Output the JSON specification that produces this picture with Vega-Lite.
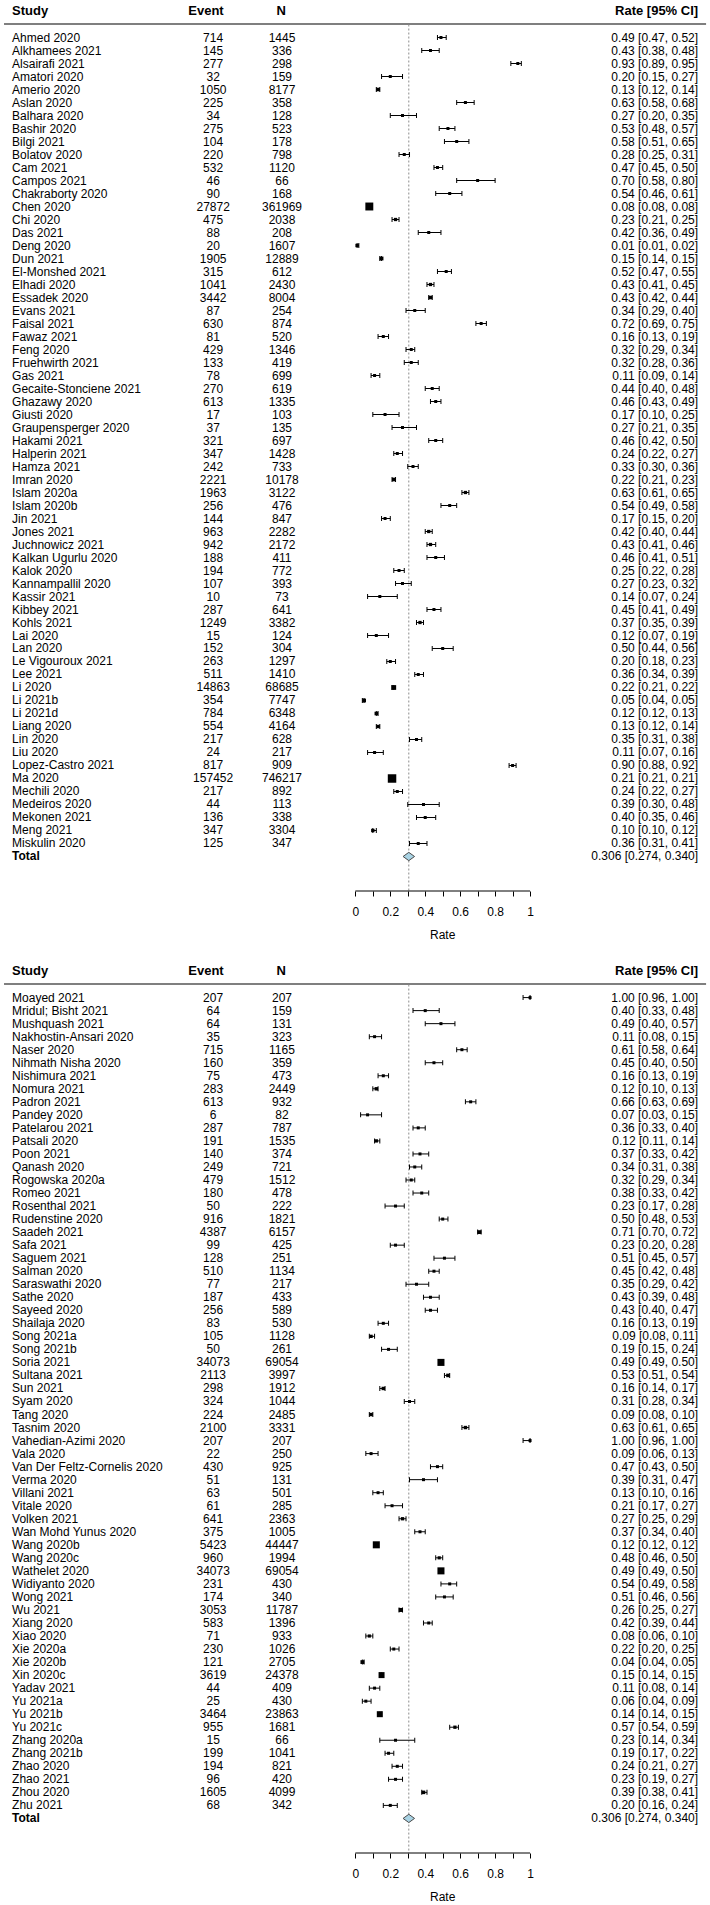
{
  "$schema": "https://vega.github.io/schema/vega-lite/v6.json",
  "padding": 0,
  "autosize": {"type": "pad"},
  "config": {"view": {"stroke": null}, "font": "Liberation Sans"},
  "data": {"values": [
    {"panel":1,"study":"Ahmed 2020","event":714,"n":1445,"rate":0.49,"lo":0.47,"hi":0.52,"w":1},
    {"panel":1,"study":"Alkhamees 2021","event":145,"n":336,"rate":0.43,"lo":0.38,"hi":0.48,"w":1},
    {"panel":1,"study":"Alsairafi 2021","event":277,"n":298,"rate":0.93,"lo":0.89,"hi":0.95,"w":1},
    {"panel":1,"study":"Amatori 2020","event":32,"n":159,"rate":0.20,"lo":0.15,"hi":0.27,"w":1},
    {"panel":1,"study":"Amerio 2020","event":1050,"n":8177,"rate":0.13,"lo":0.12,"hi":0.14,"w":1.4},
    {"panel":1,"study":"Aslan 2020","event":225,"n":358,"rate":0.63,"lo":0.58,"hi":0.68,"w":1},
    {"panel":1,"study":"Balhara 2020","event":34,"n":128,"rate":0.27,"lo":0.20,"hi":0.35,"w":1},
    {"panel":1,"study":"Bashir 2020","event":275,"n":523,"rate":0.53,"lo":0.48,"hi":0.57,"w":1},
    {"panel":1,"study":"Bilgi 2021","event":104,"n":178,"rate":0.58,"lo":0.51,"hi":0.65,"w":1},
    {"panel":1,"study":"Bolatov 2020","event":220,"n":798,"rate":0.28,"lo":0.25,"hi":0.31,"w":1},
    {"panel":1,"study":"Cam 2021","event":532,"n":1120,"rate":0.47,"lo":0.45,"hi":0.50,"w":1},
    {"panel":1,"study":"Campos 2021","event":46,"n":66,"rate":0.70,"lo":0.58,"hi":0.80,"w":1},
    {"panel":1,"study":"Chakraborty 2020","event":90,"n":168,"rate":0.54,"lo":0.46,"hi":0.61,"w":1},
    {"panel":1,"study":"Chen 2020","event":27872,"n":361969,"rate":0.08,"lo":0.08,"hi":0.08,"w":7},
    {"panel":1,"study":"Chi 2020","event":475,"n":2038,"rate":0.23,"lo":0.21,"hi":0.25,"w":1.2},
    {"panel":1,"study":"Das 2021","event":88,"n":208,"rate":0.42,"lo":0.36,"hi":0.49,"w":1},
    {"panel":1,"study":"Deng 2020","event":20,"n":1607,"rate":0.01,"lo":0.01,"hi":0.02,"w":1.3},
    {"panel":1,"study":"Dun 2021","event":1905,"n":12889,"rate":0.15,"lo":0.14,"hi":0.15,"w":1.6},
    {"panel":1,"study":"El-Monshed 2021","event":315,"n":612,"rate":0.52,"lo":0.47,"hi":0.55,"w":1},
    {"panel":1,"study":"Elhadi 2020","event":1041,"n":2430,"rate":0.43,"lo":0.41,"hi":0.45,"w":1.2},
    {"panel":1,"study":"Essadek 2020","event":3442,"n":8004,"rate":0.43,"lo":0.42,"hi":0.44,"w":1.4},
    {"panel":1,"study":"Evans 2021","event":87,"n":254,"rate":0.34,"lo":0.29,"hi":0.40,"w":1},
    {"panel":1,"study":"Faisal 2021","event":630,"n":874,"rate":0.72,"lo":0.69,"hi":0.75,"w":1},
    {"panel":1,"study":"Fawaz 2021","event":81,"n":520,"rate":0.16,"lo":0.13,"hi":0.19,"w":1},
    {"panel":1,"study":"Feng 2020","event":429,"n":1346,"rate":0.32,"lo":0.29,"hi":0.34,"w":1},
    {"panel":1,"study":"Fruehwirth 2021","event":133,"n":419,"rate":0.32,"lo":0.28,"hi":0.36,"w":1},
    {"panel":1,"study":"Gas 2021","event":78,"n":699,"rate":0.11,"lo":0.09,"hi":0.14,"w":1},
    {"panel":1,"study":"Gecaite-Stonciene 2021","event":270,"n":619,"rate":0.44,"lo":0.40,"hi":0.48,"w":1},
    {"panel":1,"study":"Ghazawy 2020","event":613,"n":1335,"rate":0.46,"lo":0.43,"hi":0.49,"w":1},
    {"panel":1,"study":"Giusti 2020","event":17,"n":103,"rate":0.17,"lo":0.10,"hi":0.25,"w":1},
    {"panel":1,"study":"Graupensperger 2020","event":37,"n":135,"rate":0.27,"lo":0.21,"hi":0.35,"w":1},
    {"panel":1,"study":"Hakami 2021","event":321,"n":697,"rate":0.46,"lo":0.42,"hi":0.50,"w":1},
    {"panel":1,"study":"Halperin 2021","event":347,"n":1428,"rate":0.24,"lo":0.22,"hi":0.27,"w":1},
    {"panel":1,"study":"Hamza 2021","event":242,"n":733,"rate":0.33,"lo":0.30,"hi":0.36,"w":1},
    {"panel":1,"study":"Imran 2020","event":2221,"n":10178,"rate":0.22,"lo":0.21,"hi":0.23,"w":1.5},
    {"panel":1,"study":"Islam 2020a","event":1963,"n":3122,"rate":0.63,"lo":0.61,"hi":0.65,"w":1.2},
    {"panel":1,"study":"Islam 2020b","event":256,"n":476,"rate":0.54,"lo":0.49,"hi":0.58,"w":1},
    {"panel":1,"study":"Jin 2021","event":144,"n":847,"rate":0.17,"lo":0.15,"hi":0.20,"w":1},
    {"panel":1,"study":"Jones 2021","event":963,"n":2282,"rate":0.42,"lo":0.40,"hi":0.44,"w":1.2},
    {"panel":1,"study":"Juchnowicz 2021","event":942,"n":2172,"rate":0.43,"lo":0.41,"hi":0.46,"w":1.2},
    {"panel":1,"study":"Kalkan Ugurlu 2020","event":188,"n":411,"rate":0.46,"lo":0.41,"hi":0.51,"w":1},
    {"panel":1,"study":"Kalok 2020","event":194,"n":772,"rate":0.25,"lo":0.22,"hi":0.28,"w":1},
    {"panel":1,"study":"Kannampallil 2020","event":107,"n":393,"rate":0.27,"lo":0.23,"hi":0.32,"w":1},
    {"panel":1,"study":"Kassir 2021","event":10,"n":73,"rate":0.14,"lo":0.07,"hi":0.24,"w":1},
    {"panel":1,"study":"Kibbey 2021","event":287,"n":641,"rate":0.45,"lo":0.41,"hi":0.49,"w":1},
    {"panel":1,"study":"Kohls 2021","event":1249,"n":3382,"rate":0.37,"lo":0.35,"hi":0.39,"w":1.2},
    {"panel":1,"study":"Lai 2020","event":15,"n":124,"rate":0.12,"lo":0.07,"hi":0.19,"w":1},
    {"panel":1,"study":"Lan 2020","event":152,"n":304,"rate":0.50,"lo":0.44,"hi":0.56,"w":1},
    {"panel":1,"study":"Le Vigouroux 2021","event":263,"n":1297,"rate":0.20,"lo":0.18,"hi":0.23,"w":1},
    {"panel":1,"study":"Lee 2021","event":511,"n":1410,"rate":0.36,"lo":0.34,"hi":0.39,"w":1},
    {"panel":1,"study":"Li 2020","event":14863,"n":68685,"rate":0.22,"lo":0.21,"hi":0.22,"w":2.5},
    {"panel":1,"study":"Li 2021b","event":354,"n":7747,"rate":0.05,"lo":0.04,"hi":0.05,"w":1.6},
    {"panel":1,"study":"Li 2021d","event":784,"n":6348,"rate":0.12,"lo":0.12,"hi":0.13,"w":1.4},
    {"panel":1,"study":"Liang 2020","event":554,"n":4164,"rate":0.13,"lo":0.12,"hi":0.14,"w":1.3},
    {"panel":1,"study":"Lin 2020","event":217,"n":628,"rate":0.35,"lo":0.31,"hi":0.38,"w":1},
    {"panel":1,"study":"Liu 2020","event":24,"n":217,"rate":0.11,"lo":0.07,"hi":0.16,"w":1},
    {"panel":1,"study":"Lopez-Castro 2021","event":817,"n":909,"rate":0.90,"lo":0.88,"hi":0.92,"w":1},
    {"panel":1,"study":"Ma 2020","event":157452,"n":746217,"rate":0.21,"lo":0.21,"hi":0.21,"w":8},
    {"panel":1,"study":"Mechili 2020","event":217,"n":892,"rate":0.24,"lo":0.22,"hi":0.27,"w":1},
    {"panel":1,"study":"Medeiros 2020","event":44,"n":113,"rate":0.39,"lo":0.30,"hi":0.48,"w":1},
    {"panel":1,"study":"Mekonen 2021","event":136,"n":338,"rate":0.40,"lo":0.35,"hi":0.46,"w":1},
    {"panel":1,"study":"Meng 2021","event":347,"n":3304,"rate":0.10,"lo":0.10,"hi":0.12,"w":1.3},
    {"panel":1,"study":"Miskulin 2020","event":125,"n":347,"rate":0.36,"lo":0.31,"hi":0.41,"w":1},
    {"panel":1,"study":"Total","event":null,"n":null,"rate":0.306,"lo":0.274,"hi":0.340,"w":0},
    {"panel":2,"study":"Moayed 2021","event":207,"n":207,"rate":1.00,"lo":0.96,"hi":1.00,"w":1},
    {"panel":2,"study":"Mridul; Bisht 2021","event":64,"n":159,"rate":0.40,"lo":0.33,"hi":0.48,"w":1},
    {"panel":2,"study":"Mushquash 2021","event":64,"n":131,"rate":0.49,"lo":0.40,"hi":0.57,"w":1},
    {"panel":2,"study":"Nakhostin-Ansari 2020","event":35,"n":323,"rate":0.11,"lo":0.08,"hi":0.15,"w":1},
    {"panel":2,"study":"Naser 2020","event":715,"n":1165,"rate":0.61,"lo":0.58,"hi":0.64,"w":1},
    {"panel":2,"study":"Nihmath Nisha 2020","event":160,"n":359,"rate":0.45,"lo":0.40,"hi":0.50,"w":1},
    {"panel":2,"study":"Nishimura 2021","event":75,"n":473,"rate":0.16,"lo":0.13,"hi":0.19,"w":1},
    {"panel":2,"study":"Nomura 2021","event":283,"n":2449,"rate":0.12,"lo":0.10,"hi":0.13,"w":1.3},
    {"panel":2,"study":"Padron 2021","event":613,"n":932,"rate":0.66,"lo":0.63,"hi":0.69,"w":1},
    {"panel":2,"study":"Pandey 2020","event":6,"n":82,"rate":0.07,"lo":0.03,"hi":0.15,"w":1},
    {"panel":2,"study":"Patelarou 2021","event":287,"n":787,"rate":0.36,"lo":0.33,"hi":0.40,"w":1},
    {"panel":2,"study":"Patsali 2020","event":191,"n":1535,"rate":0.12,"lo":0.11,"hi":0.14,"w":1.2},
    {"panel":2,"study":"Poon 2021","event":140,"n":374,"rate":0.37,"lo":0.33,"hi":0.42,"w":1},
    {"panel":2,"study":"Qanash 2020","event":249,"n":721,"rate":0.34,"lo":0.31,"hi":0.38,"w":1},
    {"panel":2,"study":"Rogowska 2020a","event":479,"n":1512,"rate":0.32,"lo":0.29,"hi":0.34,"w":1},
    {"panel":2,"study":"Romeo 2021","event":180,"n":478,"rate":0.38,"lo":0.33,"hi":0.42,"w":1},
    {"panel":2,"study":"Rosenthal 2021","event":50,"n":222,"rate":0.23,"lo":0.17,"hi":0.28,"w":1},
    {"panel":2,"study":"Rudenstine 2020","event":916,"n":1821,"rate":0.50,"lo":0.48,"hi":0.53,"w":1},
    {"panel":2,"study":"Saadeh 2021","event":4387,"n":6157,"rate":0.71,"lo":0.70,"hi":0.72,"w":1.6},
    {"panel":2,"study":"Safa 2021","event":99,"n":425,"rate":0.23,"lo":0.20,"hi":0.28,"w":1},
    {"panel":2,"study":"Saguem 2021","event":128,"n":251,"rate":0.51,"lo":0.45,"hi":0.57,"w":1},
    {"panel":2,"study":"Salman 2020","event":510,"n":1134,"rate":0.45,"lo":0.42,"hi":0.48,"w":1},
    {"panel":2,"study":"Saraswathi 2020","event":77,"n":217,"rate":0.35,"lo":0.29,"hi":0.42,"w":1},
    {"panel":2,"study":"Sathe 2020","event":187,"n":433,"rate":0.43,"lo":0.39,"hi":0.48,"w":1},
    {"panel":2,"study":"Sayeed 2020","event":256,"n":589,"rate":0.43,"lo":0.40,"hi":0.47,"w":1},
    {"panel":2,"study":"Shailaja 2020","event":83,"n":530,"rate":0.16,"lo":0.13,"hi":0.19,"w":1},
    {"panel":2,"study":"Song 2021a","event":105,"n":1128,"rate":0.09,"lo":0.08,"hi":0.11,"w":1.2},
    {"panel":2,"study":"Song 2021b","event":50,"n":261,"rate":0.19,"lo":0.15,"hi":0.24,"w":1},
    {"panel":2,"study":"Soria 2021","event":34073,"n":69054,"rate":0.49,"lo":0.49,"hi":0.50,"w":5.5},
    {"panel":2,"study":"Sultana 2021","event":2113,"n":3997,"rate":0.53,"lo":0.51,"hi":0.54,"w":1.4},
    {"panel":2,"study":"Sun 2021","event":298,"n":1912,"rate":0.16,"lo":0.14,"hi":0.17,"w":1.3},
    {"panel":2,"study":"Syam 2020","event":324,"n":1044,"rate":0.31,"lo":0.28,"hi":0.34,"w":1},
    {"panel":2,"study":"Tang 2020","event":224,"n":2485,"rate":0.09,"lo":0.08,"hi":0.10,"w":1.3},
    {"panel":2,"study":"Tasnim 2020","event":2100,"n":3331,"rate":0.63,"lo":0.61,"hi":0.65,"w":1.3},
    {"panel":2,"study":"Vahedian-Azimi 2020","event":207,"n":207,"rate":1.00,"lo":0.96,"hi":1.00,"w":1},
    {"panel":2,"study":"Vala 2020","event":22,"n":250,"rate":0.09,"lo":0.06,"hi":0.13,"w":1},
    {"panel":2,"study":"Van Der Feltz-Cornelis 2020","event":430,"n":925,"rate":0.47,"lo":0.43,"hi":0.50,"w":1},
    {"panel":2,"study":"Verma 2020","event":51,"n":131,"rate":0.39,"lo":0.31,"hi":0.47,"w":1},
    {"panel":2,"study":"Villani 2021","event":63,"n":501,"rate":0.13,"lo":0.10,"hi":0.16,"w":1},
    {"panel":2,"study":"Vitale 2020","event":61,"n":285,"rate":0.21,"lo":0.17,"hi":0.27,"w":1},
    {"panel":2,"study":"Volken 2021","event":641,"n":2363,"rate":0.27,"lo":0.25,"hi":0.29,"w":1.2},
    {"panel":2,"study":"Wan Mohd Yunus 2020","event":375,"n":1005,"rate":0.37,"lo":0.34,"hi":0.40,"w":1},
    {"panel":2,"study":"Wang 2020b","event":5423,"n":44447,"rate":0.12,"lo":0.12,"hi":0.12,"w":5.5},
    {"panel":2,"study":"Wang 2020c","event":960,"n":1994,"rate":0.48,"lo":0.46,"hi":0.50,"w":1.1},
    {"panel":2,"study":"Wathelet 2020","event":34073,"n":69054,"rate":0.49,"lo":0.49,"hi":0.50,"w":5.5},
    {"panel":2,"study":"Widiyanto 2020","event":231,"n":430,"rate":0.54,"lo":0.49,"hi":0.58,"w":1},
    {"panel":2,"study":"Wong 2021","event":174,"n":340,"rate":0.51,"lo":0.46,"hi":0.56,"w":1},
    {"panel":2,"study":"Wu 2021","event":3053,"n":11787,"rate":0.26,"lo":0.25,"hi":0.27,"w":1.8},
    {"panel":2,"study":"Xiang 2020","event":583,"n":1396,"rate":0.42,"lo":0.39,"hi":0.44,"w":1},
    {"panel":2,"study":"Xiao 2020","event":71,"n":933,"rate":0.08,"lo":0.06,"hi":0.10,"w":1.1},
    {"panel":2,"study":"Xie 2020a","event":230,"n":1026,"rate":0.22,"lo":0.20,"hi":0.25,"w":1},
    {"panel":2,"study":"Xie 2020b","event":121,"n":2705,"rate":0.04,"lo":0.04,"hi":0.05,"w":1.6},
    {"panel":2,"study":"Xin 2020c","event":3619,"n":24378,"rate":0.15,"lo":0.14,"hi":0.15,"w":4},
    {"panel":2,"study":"Yadav 2021","event":44,"n":409,"rate":0.11,"lo":0.08,"hi":0.14,"w":1},
    {"panel":2,"study":"Yu 2021a","event":25,"n":430,"rate":0.06,"lo":0.04,"hi":0.09,"w":1},
    {"panel":2,"study":"Yu 2021b","event":3464,"n":23863,"rate":0.14,"lo":0.14,"hi":0.15,"w":4},
    {"panel":2,"study":"Yu 2021c","event":955,"n":1681,"rate":0.57,"lo":0.54,"hi":0.59,"w":1.2},
    {"panel":2,"study":"Zhang 2020a","event":15,"n":66,"rate":0.23,"lo":0.14,"hi":0.34,"w":1},
    {"panel":2,"study":"Zhang 2021b","event":199,"n":1041,"rate":0.19,"lo":0.17,"hi":0.22,"w":1},
    {"panel":2,"study":"Zhao 2020","event":194,"n":821,"rate":0.24,"lo":0.21,"hi":0.27,"w":1},
    {"panel":2,"study":"Zhao 2021","event":96,"n":420,"rate":0.23,"lo":0.19,"hi":0.27,"w":1},
    {"panel":2,"study":"Zhou 2020","event":1605,"n":4099,"rate":0.39,"lo":0.38,"hi":0.41,"w":1.4},
    {"panel":2,"study":"Zhu 2021","event":68,"n":342,"rate":0.20,"lo":0.16,"hi":0.24,"w":1},
    {"panel":2,"study":"Total","event":null,"n":null,"rate":0.306,"lo":0.274,"hi":0.340,"w":0}
  ]},
  "transform": [
    {"window": [{"op": "row_number", "as": "row"}], "groupby": ["panel"]},
    {"calculate": "datum.study === 'Total' ? format(datum.rate,'.3f') + ' [' + format(datum.lo,'.3f') + ', ' + format(datum.hi,'.3f') + ']' : format(datum.rate,'.2f') + ' [' + format(datum.lo,'.2f') + ', ' + format(datum.hi,'.2f') + ']'", "as": "ci"}
  ],
  "spacing": 69,
  "bounds": "flush",
  "vconcat": [
    {
      "width": 710,
      "height": 891,
      "transform": [{"filter": "datum.panel === 1"}],
      "layer": [
        {"transform": [{"filter": "datum.study === 'Total'"}],
         "mark": {"type": "rule", "color": "#555555", "strokeWidth": 1.5},
         "encoding": {
           "x": {"datum": -2.011, "type": "quantitative", "title": null, "scale": {"domain": [-2.034, 2.03], "nice": false, "zero": false},
                 "axis": {"title": null, "values": [0, 0.1, 0.2, 0.3, 0.4, 0.5, 0.6, 0.7, 0.8, 0.9, 1], "labelExpr": "round(datum.value*10) % 2 === 0 ? format(datum.value, '~g') : ''", "domain": false, "grid": false, "ticks": true, "tickSize": 5, "tickColor": "#000", "tickWidth": 1, "labelPadding": 10, "labelFontSize": 12, "labelColor": "#000", "labelFlush": false, "labelOverlap": false}},
           "x2": {"datum": 2.0075},
           "y": {"datum": -0.04, "type": "quantitative", "scale": {"domain": [-1.885, 66.654], "nice": false, "zero": false, "reverse": true}, "axis": null}}},
        {"transform": [{"filter": "datum.study === 'Total'"}],
         "mark": {"type": "text", "text": "Study", "align": "left", "baseline": "middle", "fontSize": 13, "fontWeight": "bold", "color": "#000"},
         "encoding": {"x": {"datum": -1.965, "type": "quantitative", "title": null}, "y": {"datum": -1.04, "type": "quantitative", "axis": null}}},
        {"transform": [{"filter": "datum.study === 'Total'"}],
         "mark": {"type": "text", "text": "Event", "align": "center", "baseline": "middle", "fontSize": 13, "fontWeight": "bold", "color": "#000"},
         "encoding": {"x": {"datum": -0.855, "type": "quantitative", "title": null}, "y": {"datum": -1.04, "type": "quantitative", "axis": null}}},
        {"transform": [{"filter": "datum.study === 'Total'"}],
         "mark": {"type": "text", "text": "N", "align": "center", "baseline": "middle", "fontSize": 13, "fontWeight": "bold", "color": "#000"},
         "encoding": {"x": {"datum": -0.424, "type": "quantitative", "title": null}, "y": {"datum": -1.04, "type": "quantitative", "axis": null}}},
        {"transform": [{"filter": "datum.study === 'Total'"}],
         "mark": {"type": "text", "text": "Rate [95% CI]", "align": "right", "baseline": "middle", "fontSize": 13, "fontWeight": "bold", "color": "#000"},
         "encoding": {"x": {"datum": 1.962, "type": "quantitative", "title": null}, "y": {"datum": -1.04, "type": "quantitative", "axis": null}}},
        {"transform": [{"filter": "datum.study === 'Total'"}],
         "mark": {"type": "rule", "color": "#8c8c8c", "strokeWidth": 1, "strokeDash": [2, 2]},
         "encoding": {"x": {"field": "rate", "type": "quantitative", "title": null}, "y": {"datum": 0, "type": "quantitative", "axis": null}, "y2": {"datum": 66.654}}},
        {"transform": [{"filter": "datum.study === 'Total'"}],
         "mark": {"type": "rule", "color": "#000", "strokeWidth": 1},
         "encoding": {"x": {"datum": 0, "type": "quantitative", "title": null}, "x2": {"datum": 1}, "y": {"datum": 66.654, "type": "quantitative", "axis": null}}},
        {"transform": [{"filter": "datum.study !== 'Total'"}],
         "mark": {"type": "rule", "color": "#000", "strokeWidth": 1},
         "encoding": {"x": {"field": "lo", "type": "quantitative", "title": null}, "x2": {"field": "hi"}, "y": {"field": "row", "type": "quantitative", "axis": null}}},
        {"transform": [{"filter": "datum.study !== 'Total'"}],
         "mark": {"type": "tick", "orient": "vertical", "size": 5, "thickness": 1, "color": "#000", "opacity": 1},
         "encoding": {"x": {"field": "lo", "type": "quantitative", "title": null}, "y": {"field": "row", "type": "quantitative", "axis": null}}},
        {"transform": [{"filter": "datum.study !== 'Total'"}],
         "mark": {"type": "tick", "orient": "vertical", "size": 5, "thickness": 1, "color": "#000", "opacity": 1},
         "encoding": {"x": {"field": "hi", "type": "quantitative", "title": null}, "y": {"field": "row", "type": "quantitative", "axis": null}}},
        {"transform": [{"filter": "datum.study !== 'Total'"}],
         "mark": {"type": "point", "shape": "square", "filled": true, "color": "#000", "opacity": 1, "strokeWidth": 0},
         "encoding": {
           "x": {"field": "rate", "type": "quantitative", "title": null},
           "y": {"field": "row", "type": "quantitative", "axis": null},
           "size": {"field": "w", "type": "quantitative", "scale": {"type": "linear", "domain": [0, 8], "range": [0, 72]}, "legend": null}}},
        {"transform": [{"filter": "datum.study === 'Total'"}],
         "mark": {"type": "point", "shape": "M -1 0 L 0 -0.72 L 1 0 L 0 0.72 Z", "size": 132, "filled": true, "fill": "#a9d3e4", "stroke": "#4a4a4a", "strokeWidth": 1, "opacity": 1},
         "encoding": {"x": {"field": "rate", "type": "quantitative", "title": null}, "y": {"field": "row", "type": "quantitative", "axis": null}}},
        {"transform": [{"filter": "datum.study !== 'Total'"}],
         "mark": {"type": "text", "align": "left", "baseline": "middle", "fontSize": 12, "color": "#000"},
         "encoding": {"x": {"datum": -1.965, "type": "quantitative", "title": null}, "y": {"field": "row", "type": "quantitative", "axis": null}, "text": {"field": "study", "type": "nominal"}}},
        {"transform": [{"filter": "datum.study === 'Total'"}],
         "mark": {"type": "text", "align": "left", "baseline": "middle", "fontSize": 12, "fontWeight": "bold", "color": "#000"},
         "encoding": {"x": {"datum": -1.965, "type": "quantitative", "title": null}, "y": {"field": "row", "type": "quantitative", "axis": null}, "text": {"field": "study", "type": "nominal"}}},
        {"transform": [{"filter": "datum.study !== 'Total'"}],
         "mark": {"type": "text", "align": "center", "baseline": "middle", "fontSize": 12, "color": "#000"},
         "encoding": {"x": {"datum": -0.814, "type": "quantitative", "title": null}, "y": {"field": "row", "type": "quantitative", "axis": null}, "text": {"field": "event", "type": "nominal"}}},
        {"transform": [{"filter": "datum.study !== 'Total'"}],
         "mark": {"type": "text", "align": "center", "baseline": "middle", "fontSize": 12, "color": "#000"},
         "encoding": {"x": {"datum": -0.42, "type": "quantitative", "title": null}, "y": {"field": "row", "type": "quantitative", "axis": null}, "text": {"field": "n", "type": "nominal"}}},
        {"mark": {"type": "text", "align": "right", "baseline": "middle", "fontSize": 12, "color": "#000"},
         "encoding": {"x": {"datum": 1.962, "type": "quantitative", "title": null}, "y": {"field": "row", "type": "quantitative", "axis": null}, "text": {"field": "ci", "type": "nominal"}}},
        {"transform": [{"filter": "datum.study === 'Total'"}],
         "mark": {"type": "text", "text": "Rate", "align": "center", "baseline": "middle", "fontSize": 12, "color": "#000"},
         "encoding": {"x": {"datum": 0.5, "type": "quantitative", "title": null}, "y": {"datum": 70.04, "type": "quantitative", "axis": null}}}
      ]
    },
    {
      "width": 710,
      "height": 893,
      "transform": [{"filter": "datum.panel === 2"}],
      "layer": [
        {"transform": [{"filter": "datum.study === 'Total'"}],
         "mark": {"type": "rule", "color": "#555555", "strokeWidth": 1.5},
         "encoding": {
           "x": {"datum": -2.011, "type": "quantitative", "title": null, "scale": {"domain": [-2.034, 2.03], "nice": false, "zero": false},
                 "axis": {"title": null, "values": [0, 0.1, 0.2, 0.3, 0.4, 0.5, 0.6, 0.7, 0.8, 0.9, 1], "labelExpr": "round(datum.value*10) % 2 === 0 ? format(datum.value, '~g') : ''", "domain": false, "grid": false, "ticks": true, "tickSize": 5, "tickColor": "#000", "tickWidth": 1, "labelPadding": 10, "labelFontSize": 12, "labelColor": "#000", "labelFlush": false, "labelOverlap": false}},
           "x2": {"datum": 2.0075},
           "y": {"datum": -0.04, "type": "quantitative", "scale": {"domain": [-1.885, 66.654], "nice": false, "zero": false, "reverse": true}, "axis": null}}},
        {"transform": [{"filter": "datum.study === 'Total'"}],
         "mark": {"type": "text", "text": "Study", "align": "left", "baseline": "middle", "fontSize": 13, "fontWeight": "bold", "color": "#000"},
         "encoding": {"x": {"datum": -1.965, "type": "quantitative", "title": null}, "y": {"datum": -1.04, "type": "quantitative", "axis": null}}},
        {"transform": [{"filter": "datum.study === 'Total'"}],
         "mark": {"type": "text", "text": "Event", "align": "center", "baseline": "middle", "fontSize": 13, "fontWeight": "bold", "color": "#000"},
         "encoding": {"x": {"datum": -0.855, "type": "quantitative", "title": null}, "y": {"datum": -1.04, "type": "quantitative", "axis": null}}},
        {"transform": [{"filter": "datum.study === 'Total'"}],
         "mark": {"type": "text", "text": "N", "align": "center", "baseline": "middle", "fontSize": 13, "fontWeight": "bold", "color": "#000"},
         "encoding": {"x": {"datum": -0.424, "type": "quantitative", "title": null}, "y": {"datum": -1.04, "type": "quantitative", "axis": null}}},
        {"transform": [{"filter": "datum.study === 'Total'"}],
         "mark": {"type": "text", "text": "Rate [95% CI]", "align": "right", "baseline": "middle", "fontSize": 13, "fontWeight": "bold", "color": "#000"},
         "encoding": {"x": {"datum": 1.962, "type": "quantitative", "title": null}, "y": {"datum": -1.04, "type": "quantitative", "axis": null}}},
        {"transform": [{"filter": "datum.study === 'Total'"}],
         "mark": {"type": "rule", "color": "#8c8c8c", "strokeWidth": 1, "strokeDash": [2, 2]},
         "encoding": {"x": {"field": "rate", "type": "quantitative", "title": null}, "y": {"datum": 0, "type": "quantitative", "axis": null}, "y2": {"datum": 66.654}}},
        {"transform": [{"filter": "datum.study === 'Total'"}],
         "mark": {"type": "rule", "color": "#000", "strokeWidth": 1},
         "encoding": {"x": {"datum": 0, "type": "quantitative", "title": null}, "x2": {"datum": 1}, "y": {"datum": 66.654, "type": "quantitative", "axis": null}}},
        {"transform": [{"filter": "datum.study !== 'Total'"}],
         "mark": {"type": "rule", "color": "#000", "strokeWidth": 1},
         "encoding": {"x": {"field": "lo", "type": "quantitative", "title": null}, "x2": {"field": "hi"}, "y": {"field": "row", "type": "quantitative", "axis": null}}},
        {"transform": [{"filter": "datum.study !== 'Total'"}],
         "mark": {"type": "tick", "orient": "vertical", "size": 5, "thickness": 1, "color": "#000", "opacity": 1},
         "encoding": {"x": {"field": "lo", "type": "quantitative", "title": null}, "y": {"field": "row", "type": "quantitative", "axis": null}}},
        {"transform": [{"filter": "datum.study !== 'Total'"}],
         "mark": {"type": "tick", "orient": "vertical", "size": 5, "thickness": 1, "color": "#000", "opacity": 1},
         "encoding": {"x": {"field": "hi", "type": "quantitative", "title": null}, "y": {"field": "row", "type": "quantitative", "axis": null}}},
        {"transform": [{"filter": "datum.study !== 'Total'"}],
         "mark": {"type": "point", "shape": "square", "filled": true, "color": "#000", "opacity": 1, "strokeWidth": 0},
         "encoding": {
           "x": {"field": "rate", "type": "quantitative", "title": null},
           "y": {"field": "row", "type": "quantitative", "axis": null},
           "size": {"field": "w", "type": "quantitative", "scale": {"type": "linear", "domain": [0, 8], "range": [0, 72]}, "legend": null}}},
        {"transform": [{"filter": "datum.study === 'Total'"}],
         "mark": {"type": "point", "shape": "M -1 0 L 0 -0.72 L 1 0 L 0 0.72 Z", "size": 132, "filled": true, "fill": "#a9d3e4", "stroke": "#4a4a4a", "strokeWidth": 1, "opacity": 1},
         "encoding": {"x": {"field": "rate", "type": "quantitative", "title": null}, "y": {"field": "row", "type": "quantitative", "axis": null}}},
        {"transform": [{"filter": "datum.study !== 'Total'"}],
         "mark": {"type": "text", "align": "left", "baseline": "middle", "fontSize": 12, "color": "#000"},
         "encoding": {"x": {"datum": -1.965, "type": "quantitative", "title": null}, "y": {"field": "row", "type": "quantitative", "axis": null}, "text": {"field": "study", "type": "nominal"}}},
        {"transform": [{"filter": "datum.study === 'Total'"}],
         "mark": {"type": "text", "align": "left", "baseline": "middle", "fontSize": 12, "fontWeight": "bold", "color": "#000"},
         "encoding": {"x": {"datum": -1.965, "type": "quantitative", "title": null}, "y": {"field": "row", "type": "quantitative", "axis": null}, "text": {"field": "study", "type": "nominal"}}},
        {"transform": [{"filter": "datum.study !== 'Total'"}],
         "mark": {"type": "text", "align": "center", "baseline": "middle", "fontSize": 12, "color": "#000"},
         "encoding": {"x": {"datum": -0.814, "type": "quantitative", "title": null}, "y": {"field": "row", "type": "quantitative", "axis": null}, "text": {"field": "event", "type": "nominal"}}},
        {"transform": [{"filter": "datum.study !== 'Total'"}],
         "mark": {"type": "text", "align": "center", "baseline": "middle", "fontSize": 12, "color": "#000"},
         "encoding": {"x": {"datum": -0.42, "type": "quantitative", "title": null}, "y": {"field": "row", "type": "quantitative", "axis": null}, "text": {"field": "n", "type": "nominal"}}},
        {"mark": {"type": "text", "align": "right", "baseline": "middle", "fontSize": 12, "color": "#000"},
         "encoding": {"x": {"datum": 1.962, "type": "quantitative", "title": null}, "y": {"field": "row", "type": "quantitative", "axis": null}, "text": {"field": "ci", "type": "nominal"}}},
        {"transform": [{"filter": "datum.study === 'Total'"}],
         "mark": {"type": "text", "text": "Rate", "align": "center", "baseline": "middle", "fontSize": 12, "color": "#000"},
         "encoding": {"x": {"datum": 0.5, "type": "quantitative", "title": null}, "y": {"datum": 70.04, "type": "quantitative", "axis": null}}}
      ]
    }
  ]
}
